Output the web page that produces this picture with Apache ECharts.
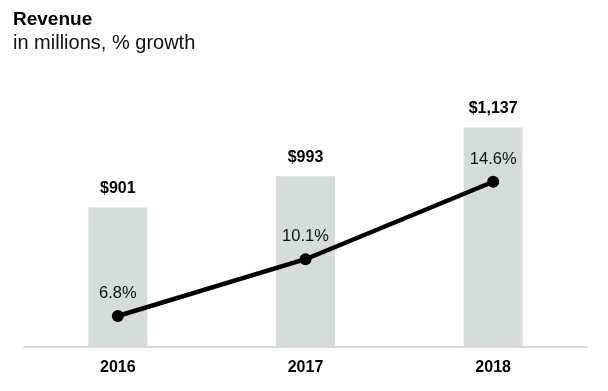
<!DOCTYPE html>
<html>
<head>
<meta charset="utf-8">
<script src="https://cdn.jsdelivr.net/npm/echarts@6/dist/echarts.min.js"></script>
<style>
html,body{margin:0;padding:0;background:#fff;}
#chart{width:608px;height:391px;}
</style>
</head>
<body>
<div id="chart"></div>
<script>
var categories = ['2016', '2017', '2018'];
var revenue = [901, 993, 1137];
var growth = [6.8, 10.1, 14.6];

var chart = echarts.init(document.getElementById('chart'), null, {renderer: 'canvas'});
var font = '"Liberation Sans", Arial, Helvetica, sans-serif';
chart.setOption({
  animation: false,
  backgroundColor: '#ffffff',
  title: {
    text: 'Revenue',
    subtext: 'in millions, % growth',
    left: 8,
    top: 5,
    itemGap: 4,
    textStyle: {fontFamily: font, fontSize: 19, fontWeight: 'bold', color: '#000'},
    subtextStyle: {fontFamily: font, fontSize: 20, color: '#111'}
  },
  grid: {left: 24, right: 21, top: 106, bottom: 44},
  xAxis: {
    type: 'category',
    data: categories,
    boundaryGap: true,
    axisTick: {show: false},
    axisLine: {lineStyle: {color: '#d9d9d9', width: 2}},
    axisLabel: {fontFamily: font, fontSize: 16, fontWeight: 'bold', color: '#000', margin: 13}
  },
  yAxis: [
    {type: 'value', min: 490, max: 1200, show: false, splitLine: {show: false}},
    {type: 'value', min: 5, max: 19, show: false, splitLine: {show: false}}
  ],
  series: [
    {
      type: 'bar',
      yAxisIndex: 0,
      data: revenue,
      barWidth: 59,
      itemStyle: {color: '#d5dddb'},
      label: {
        show: true,
        position: 'top',
        distance: 11,
        fontFamily: font,
        fontSize: 16,
        fontWeight: 'bold',
        color: '#000',
        formatter: function (p) { return '$' + p.value.toLocaleString('en-US'); }
      }
    },
    {
      type: 'line',
      yAxisIndex: 1,
      data: growth,
      symbol: 'circle',
      symbolSize: 12,
      lineStyle: {color: '#000', width: 4.5},
      itemStyle: {color: '#000'},
      label: {
        show: true,
        position: 'top',
        distance: 8,
        fontFamily: font,
        fontSize: 16.5,
        color: '#111',
        formatter: function (p) { return p.value.toFixed(1) + '%'; }
      }
    }
  ]
});
</script>
</body>
</html>
